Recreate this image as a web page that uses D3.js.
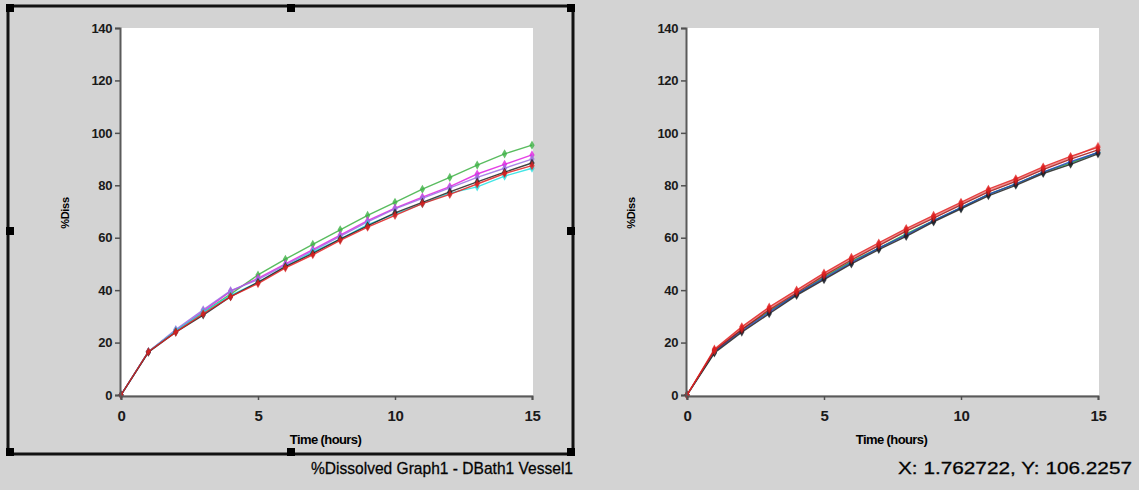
<!DOCTYPE html>
<html>
<head>
<meta charset="utf-8">
<script src="https://cdn.jsdelivr.net/npm/d3@7"></script>
<style>
  body { margin: 0; background: #d3d3d3; }
  svg { display: block; }
  .tick text { font-family: "Liberation Sans", Arial, sans-serif; font-weight: bold; font-size: 13px; fill: #1a1a1a; letter-spacing: -0.4px; }
</style>
</head>
<body>
<div id="chart"></div>
<script>
const width = 1139
const height = 490

const hours = [0, 1, 2, 3, 4, 5, 6, 7, 8, 9, 10, 11, 12, 13, 14, 15]
const yTicks = [0, 20, 40, 60, 80, 100, 120, 140]
const xTicks = [0, 5, 10, 15]

// left graph (six vessels)
const leftColors = ["#3cb043", "#e020e0", "#9a70e0", "#20e0e0", "#202020", "#e02020"]
const leftGreen = [0, 16.5, 24.5, 31.5, 38.5, 45.8, 51.8, 57.5, 63, 68.5, 73.5, 78.5, 83, 87.7, 92, 95.3]
const leftMagenta = [0, 16.5, 24.5, 32, 39.5, 44.5, 50, 55.5, 61, 66.5, 71.3, 75.5, 79.5, 84.3, 88, 91.6]
const leftPurple = [0, 16.5, 25, 32.5, 39.8, 44, 49.5, 55, 60.5, 66, 71, 75, 79, 83, 86.5, 90]
const leftCyan = [0, 16.5, 24.5, 31.5, 38, 43, 49, 54.5, 59.5, 65, 69, 73, 77, 79.4, 83.5, 86.5]
const leftBlack = [0, 16.3, 24, 30.5, 37.5, 43, 49, 54, 59.5, 64.5, 69.5, 73.5, 77.5, 81.3, 85, 88.5]
const leftRed = [0, 16.5, 24, 31, 37.5, 42.5, 48.5, 53.5, 59, 64, 68.5, 73, 76.5, 80.5, 84.5, 87.5]
const leftSeries = [leftGreen, leftMagenta, leftPurple, leftCyan, leftBlack, leftRed]

// right graph
const rightColors = ["#20a040", "#2040c0", "#202020", "#f08080", "#a01010", "#e02020"]
const rightGreen = [0, 16.5, 25, 32, 38.5, 45, 51, 56, 61.5, 66.5, 71.5, 76.5, 80.5, 85, 88.5, 92.5]
const rightBlue = [0, 16.5, 24.5, 31.5, 38.5, 44.5, 50.5, 56, 61, 66.5, 71.5, 76.5, 80.5, 85, 89, 92.5]
const rightBlack = [0, 16, 24, 31, 38, 44, 50, 55.5, 60.5, 66, 71, 76, 80, 84.5, 88, 92]
const rightSalmon = [0, 17, 25.5, 33, 39.5, 46, 52, 57.5, 63, 68, 73, 78, 82, 86.5, 90.5, 95]
const rightDarkRed = [0, 17, 25, 32.5, 39, 45.5, 51.5, 57, 62.5, 67.5, 72.5, 77.5, 81.5, 86, 90, 93.5]
const rightRed = [0, 17.5, 26, 33.5, 40, 46.5, 52.5, 58, 63.5, 68.5, 73.5, 78.5, 82.5, 87, 91, 94.5]
const rightSeries = [rightGreen, rightBlue, rightBlack, rightSalmon, rightDarkRed, rightRed]

const svg = d3.select("div#chart").append("svg").attr("width", width).attr("height", height)

const y = d3.scaleLinear().domain([0, 140]).range([395, 28])

function drawGraph(x0, series, colors) {
  const x = d3.scaleLinear().domain([0, 15]).range([x0, x0 + 411])
  const g = svg.append("g")

  g.append("rect")
    .attr("x", x(0)).attr("y", y(140))
    .attr("width", x(15) - x(0) + 1).attr("height", y(0) - y(140))
    .attr("fill", "#fff")

  const line = d3.line().x((d, i) => x(hours[i])).y(d => y(d))

  series.forEach((s, k) => {
    g.append("path")
      .attr("d", line(s))
      .attr("fill", "none")
      .attr("stroke", colors[k])
      .attr("stroke-width", 1.4)
      .attr("opacity", 0.85)
    g.selectAll(null).data(s).enter()
      .append("path")
      .attr("d", d3.symbol(d3.symbolDiamond, 24))
      .attr("transform", (d, i) => `translate(${x(hours[i])}, ${y(d)})`)
      .attr("fill", colors[k])
      .attr("opacity", 0.8)
  })

  const yAxis = g.append("g").attr("transform", `translate(${x(0) - 1}, 0)`)
    .call(d3.axisLeft(y).tickValues(yTicks).tickSize(5).tickPadding(3))
  const xAxis = g.append("g").attr("transform", `translate(0, ${y(0) + 1})`)
    .call(d3.axisBottom(x).tickValues(xTicks).tickSize(4).tickPadding(10))
  ;[yAxis, xAxis].forEach(a => {
    a.select(".domain").attr("stroke", "#5a5a5a").attr("stroke-width", 2)
    a.selectAll(".tick line").attr("stroke", "#505050").attr("stroke-width", 1.5)
  })
  xAxis.selectAll(".tick text").style("font-size", "15px")

  g.append("text")
    .attr("transform", `translate(${x0 - 52}, 213) rotate(-90)`)
    .attr("text-anchor", "middle")
    .style("font-family", "Liberation Sans, Arial, sans-serif")
    .style("font-weight", "bold").style("font-size", "11px")
    .style("letter-spacing", "-0.3px")
    .text("%Diss")

  g.append("text")
    .attr("x", x(7.5) - 1).attr("y", 444)
    .attr("text-anchor", "middle")
    .style("font-family", "Liberation Sans, Arial, sans-serif")
    .style("font-weight", "bold").style("font-size", "13px")
    .style("letter-spacing", "-0.6px")
    .text("Time (hours)")
}

drawGraph(121, leftSeries, leftColors)
drawGraph(687, rightSeries, rightColors)

// selection frame round the left graph
svg.append("rect")
  .attr("x", 8).attr("y", 6).attr("width", 565).attr("height", 448)
  .attr("fill", "none").attr("stroke", "#111").attr("stroke-width", 3)
const handles = [[10, 8], [291, 8], [571, 8], [10, 231], [571, 231], [10, 452], [291, 452], [571, 452]]
svg.selectAll(".handle").data(handles).enter()
  .append("rect").attr("class", "handle")
  .attr("x", d => d[0] - 4).attr("y", d => d[1] - 4)
  .attr("width", 8).attr("height", 8).attr("fill", "#000")

svg.append("text")
  .attr("x", 311).attr("y", 474)
  .style("font-family", "Liberation Sans, Arial, sans-serif").style("font-size", "17px")
  .style("stroke", "#111").style("stroke-width", 0.3)
  .attr("textLength", 262).attr("lengthAdjust", "spacingAndGlyphs")
  .text("%Dissolved Graph1 - DBath1 Vessel1")

svg.append("text")
  .attr("x", 898).attr("y", 474)
  .style("font-family", "Liberation Sans, Arial, sans-serif").style("font-size", "17px")
  .style("stroke", "#111").style("stroke-width", 0.3)
  .attr("textLength", 234).attr("lengthAdjust", "spacingAndGlyphs")
  .text("X: 1.762722, Y: 106.2257")
</script>
</body>
</html>
